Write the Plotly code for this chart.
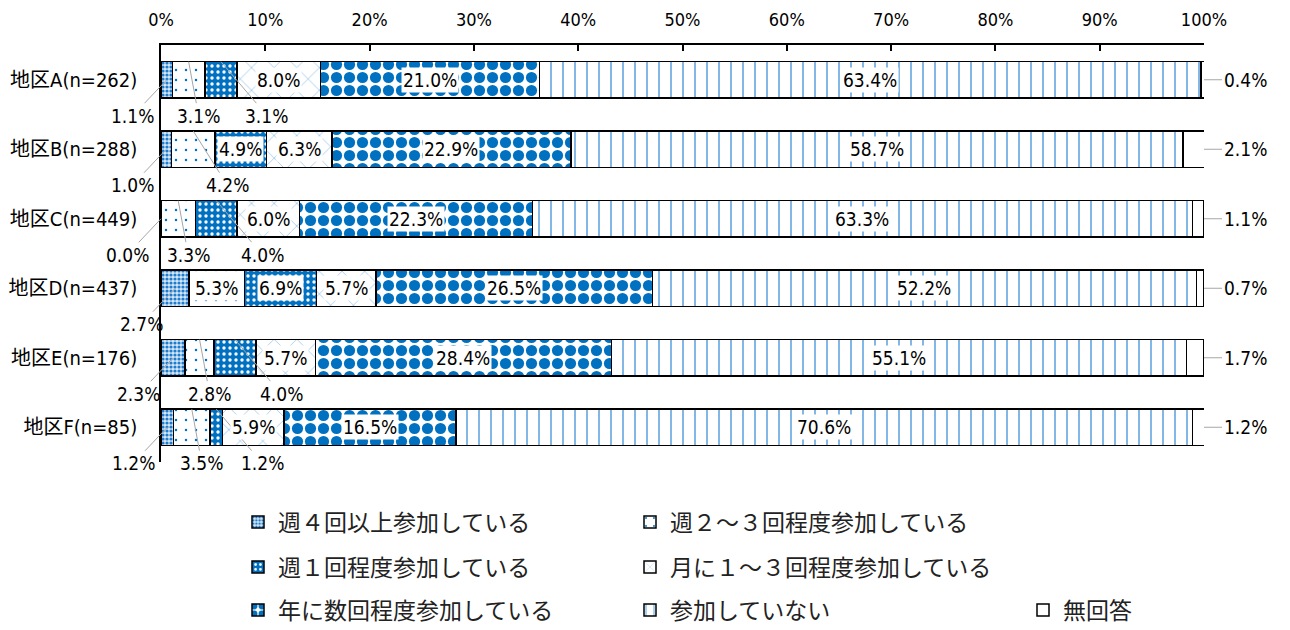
import plotly.graph_objects as go

areas = ['地区A(n=262)', '地区B(n=288)', '地区C(n=449)', '地区D(n=437)', '地区E(n=176)', '地区F(n=85)']
answers = ['週４回以上参加している', '週２～３回程度参加している', '週１回程度参加している',
           '月に１～３回程度参加している', '年に数回程度参加している', '参加していない', '無回答']

weekly4 = [1.1, 1.0, 0.0, 2.7, 2.3, 1.2]
weekly2_3 = [3.1, 4.2, 3.3, 5.3, 2.8, 3.5]
weekly1 = [3.1, 4.9, 4.0, 6.9, 4.0, 1.2]
monthly = [8.0, 6.3, 6.0, 5.7, 5.7, 5.9]
yearly = [21.0, 22.9, 22.3, 26.5, 28.4, 16.5]
never = [63.4, 58.7, 63.3, 52.2, 55.1, 70.6]
no_answer = [0.4, 2.1, 1.1, 0.7, 1.7, 1.2]

tick_vals = [0, 10, 20, 30, 40, 50, 60, 70, 80, 90, 100]
tick_text = [f'{t}%' for t in tick_vals]

series = [weekly4, weekly2_3, weekly1, monthly, yearly, never, no_answer]

BLUE = '#0070C0'
NUM_FONT = 'DejaVu Sans Condensed, Noto Sans CJK JP'
JP_FONT = 'Noto Sans CJK JP'

patterns = [
    dict(shape='.', fgcolor='#1F7BCB', bgcolor='#D6E8F7', size=4, solidity=0.5, fgopacity=1),
    dict(shape='.', fgcolor=BLUE, bgcolor='white', size=10, solidity=0.05, fgopacity=1),
    dict(shape='.', fgcolor='white', bgcolor=BLUE, size=6, solidity=0.25, fgopacity=1),
    dict(shape='x', fgcolor='#3A8DD6', bgcolor='white', size=16, solidity=0.05, fgopacity=1),
    dict(shape='.', fgcolor=BLUE, bgcolor='white', size=13, solidity=0.58, fgopacity=1),
    dict(shape='|', fgcolor='#2F88D4', bgcolor='white', size=12, solidity=0.1, fgopacity=1),
    dict(shape='', fgcolor='white', bgcolor='white'),
]

# legend grid: (text left px, row centre px)
legend_pos = [(280, 522), (672, 522), (280, 567), (672, 567), (280, 610), (672, 610), (1065, 610)]

L, R, T, B = 161, 86, 45, 168
W, H = 1290, 630
pw, ph = W - L - R, H - T - B
row_px = ph / len(areas)
bar_w = 0.52
half_px = bar_w * row_px / 2

fig = go.Figure()
for k, (name, vals) in enumerate(zip(answers, series)):
    lg = f'legend{k + 2}'
    fig.add_trace(go.Bar(
        y=areas, x=vals, name=name, orientation='h', width=bar_w,
        marker=dict(color='white', pattern=patterns[k], line=dict(color='black', width=1.5)),
        legend=lg, hoverinfo='skip'))
    px_, py_ = legend_pos[k]
    fig.update_layout({lg: dict(
        x=(px_ - 42 - L) / pw, y=(T + ph - py_) / ph, xanchor='left', yanchor='middle',
        bgcolor='rgba(0,0,0,0)', font=dict(family=JP_FONT, size=23, color='#222'))})

ann = []
for i, area in enumerate(areas):
    left = 0.0
    for k, vals in enumerate(series):
        v = vals[i]
        mid = left + v / 2
        txt = f'{v:.1f}%'
        font = dict(family=NUM_FONT, size=19, color='black')
        base = dict(text=txt, font=font, xref='x', yref='y', y=area, showarrow=True,
                    arrowhead=0, arrowwidth=1, arrowcolor='#A6A6A6', standoff=0)
        if k == 0:
            ann.append(dict(base, x=mid, ax=-34, ay=36))
        elif k == len(series) - 1:
            ann.append(dict(base, x=100, ax=18, ay=0, xanchor='left'))
        elif v >= 4.5:
            ann.append(dict(text=txt, font=font, x=mid, y=area, xref='x', yref='y',
                            showarrow=False, bgcolor='white', borderpad=1))
        else:
            if k == 1:
                off = 10 if weekly1[i] < 4.5 else 34
            else:
                off = 46
            ann.append(dict(base, x=mid, yshift=half_px, ax=off, ay=54, bgcolor='white'))
        left += v

fig.update_layout(
    width=W, height=H, barmode='stack', showlegend=True,
    margin=dict(l=L, r=R, t=T, b=B, autoexpand=False),
    plot_bgcolor='white', paper_bgcolor='white',
    annotations=ann,
    xaxis=dict(range=[0, 100], side='top', tickvals=tick_vals, ticktext=tick_text, automargin=False,
               showgrid=False, zeroline=False, showline=True, linecolor='black', linewidth=1.5,
               ticks='inside', ticklen=6, tickcolor='black', tickwidth=1.5, ticklabelstandoff=10,
               tickfont=dict(family=NUM_FONT, size=18, color='black')),
    yaxis=dict(type='category', range=[len(areas) - 0.5, -0.5], automargin=False, showgrid=False,
               zeroline=False, showline=True, linecolor='black', linewidth=1.5, ticks='',
               ticklabelstandoff=18, tickfont=dict(family=NUM_FONT, size=20, color='black')),
)

fig.write_html('out.html', config={'displayModeBar': False},
               post_script="document.body.style.margin='0';")
